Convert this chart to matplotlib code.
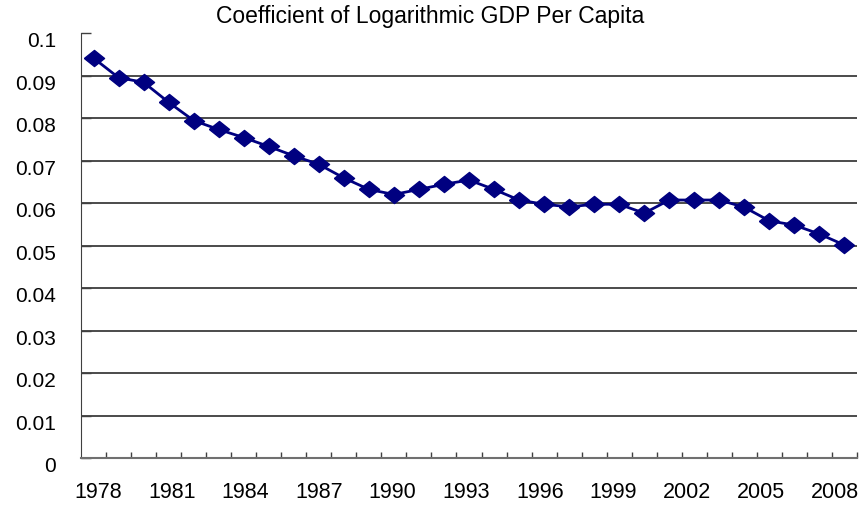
#!/usr/bin/env python3
"""Coefficient of logarithmic GDP per capita, 1978-2008."""

import matplotlib

matplotlib.use("Agg")

import matplotlib.pyplot as plt
import numpy as np
from matplotlib.transforms import ScaledTranslation

YEARS = list(range(1978, 2009))
COEFFICIENT = [
    0.0941, 0.0895, 0.0884, 0.0837, 0.0794, 0.0773, 0.0754, 0.0733, 0.0711, 0.0691,
    0.0659, 0.0632, 0.0620, 0.0632, 0.0644, 0.0654, 0.0632, 0.0607, 0.0597, 0.0591,
    0.0597, 0.0597, 0.0576, 0.0607, 0.0607, 0.0607, 0.0590, 0.0558, 0.0548, 0.0527,
    0.0501,
]
Y_TICKS = [0, 0.01, 0.02, 0.03, 0.04, 0.05, 0.06, 0.07, 0.08, 0.09, 0.1]
Y_TICK_LABELS = ["0", "0.01", "0.02", "0.03", "0.04", "0.05", "0.06", "0.07", "0.08", "0.09", "0.1"]
TITLE = "Coefficient of Logarithmic GDP Per Capita"

NAVY = "#000080"

plt.rcParams.update({"font.family": ["Liberation Sans", "DejaVu Sans"]})

fig = plt.figure(figsize=(8.61, 5.05), dpi=100)
ax = fig.add_axes([81 / 861, 47 / 505, 776 / 861, 425 / 505])

x = np.arange(len(YEARS))
diamond = [(-1, 0), (0, 0.8), (1, 0), (0, -0.8), (-1, 0)]
ax.plot(x, COEFFICIENT, color=NAVY, linewidth=2.0, marker=diamond,
        markersize=14.5, markerfacecolor=NAVY, markeredgecolor=NAVY, zorder=3)

ax.set_xlim(-0.5, len(YEARS) - 0.5)
ax.set_ylim(0, 0.1)

# horizontal gridlines (none at 0 and 0.1)
for yv in Y_TICKS[1:-1]:
    ax.axhline(yv, color="#1a1a1a", linewidth=1.1, zorder=1)

ax.set_yticks(Y_TICKS)
ax.set_yticklabels(Y_TICK_LABELS)
ax.tick_params(axis="y", direction="in", length=7, width=1, color="#404040",
               labelsize=15, pad=18)
for label in ax.get_yticklabels():
    label.set_transform(label.get_transform() + ScaledTranslation(0, -5 / 72, fig.dpi_scale_trans))

major = x[::3]
ax.set_xticks(major)
ax.set_xticklabels([str(YEARS[i]) for i in major])
ax.set_xticks(np.arange(0.5, len(YEARS), 1), minor=True)
ax.tick_params(axis="x", which="major", length=0, labelsize=15.5, pad=17.5)
ax.tick_params(axis="x", which="minor", direction="in", length=4, width=1, color="#404040")
# year labels sit slightly inward of their category centres
for k, label in enumerate(ax.get_xticklabels()):
    shift = (4.5 - 1.45 * k) / 100
    label.set_transform(label.get_transform() + ScaledTranslation(shift, 0, fig.dpi_scale_trans))

ax.spines["top"].set_visible(False)
ax.spines["right"].set_visible(False)
ax.spines["left"].set_color("#404040")
ax.spines["bottom"].set_color("#707070")
ax.spines["bottom"].set_linewidth(1.5)

fig.text(430 / 861, 1 - 17 / 505, TITLE, ha="center", va="center", fontsize=16.5)

fig.savefig("out.png", dpi=100)
plt.close(fig)
